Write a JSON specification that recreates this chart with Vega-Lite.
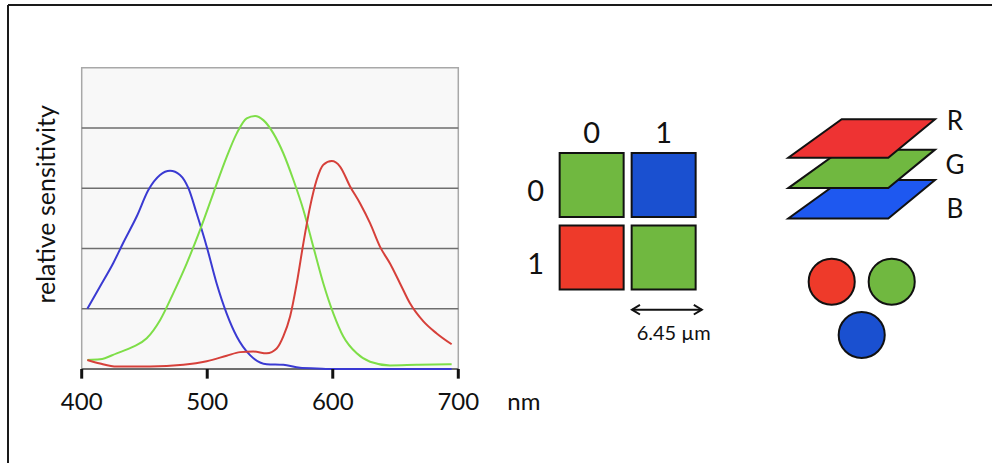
{
  "$schema": "https://vega.github.io/schema/vega-lite/v6.json",
  "width": 984,
  "height": 458,
  "autosize": {"type": "none"},
  "padding": {"left": 8, "top": 5, "right": 0, "bottom": 0},
  "background": "white",
  "config": {
    "view": {"stroke": null},
    "axis": {"disable": true},
    "legend": {"disable": true},
    "text": {"font": "Lato", "color": "#111111"}
  },
  "datasets": {
    "curves": [
      {"channel": "B", "wavelength": 404.5, "value": 1.0},
      {"channel": "B", "wavelength": 414.6, "value": 1.37},
      {"channel": "B", "wavelength": 425.2, "value": 1.76},
      {"channel": "B", "wavelength": 433.2, "value": 2.1},
      {"channel": "B", "wavelength": 443.8, "value": 2.53},
      {"channel": "B", "wavelength": 453.1, "value": 2.97},
      {"channel": "B", "wavelength": 462.4, "value": 3.22},
      {"channel": "B", "wavelength": 470.4, "value": 3.29},
      {"channel": "B", "wavelength": 478.3, "value": 3.22},
      {"channel": "B", "wavelength": 485.0, "value": 3.0},
      {"channel": "B", "wavelength": 491.6, "value": 2.58},
      {"channel": "B", "wavelength": 499.6, "value": 2.03},
      {"channel": "B", "wavelength": 507.5, "value": 1.42},
      {"channel": "B", "wavelength": 515.5, "value": 0.92},
      {"channel": "B", "wavelength": 523.5, "value": 0.54},
      {"channel": "B", "wavelength": 534.1, "value": 0.23},
      {"channel": "B", "wavelength": 547.4, "value": 0.08},
      {"channel": "B", "wavelength": 560.6, "value": 0.07},
      {"channel": "B", "wavelength": 573.9, "value": 0.02},
      {"channel": "B", "wavelength": 587.2, "value": 0.01},
      {"channel": "B", "wavelength": 600.5, "value": 0.0},
      {"channel": "B", "wavelength": 694.7, "value": 0.0},
      {"channel": "G", "wavelength": 404.5, "value": 0.15},
      {"channel": "G", "wavelength": 414.6, "value": 0.16},
      {"channel": "G", "wavelength": 427.9, "value": 0.26},
      {"channel": "G", "wavelength": 441.2, "value": 0.37},
      {"channel": "G", "wavelength": 451.8, "value": 0.51},
      {"channel": "G", "wavelength": 462.4, "value": 0.81},
      {"channel": "G", "wavelength": 473.0, "value": 1.26},
      {"channel": "G", "wavelength": 483.6, "value": 1.75},
      {"channel": "G", "wavelength": 494.3, "value": 2.31},
      {"channel": "G", "wavelength": 504.9, "value": 2.92},
      {"channel": "G", "wavelength": 515.5, "value": 3.52},
      {"channel": "G", "wavelength": 523.5, "value": 3.91},
      {"channel": "G", "wavelength": 531.4, "value": 4.16},
      {"channel": "G", "wavelength": 538.1, "value": 4.2},
      {"channel": "G", "wavelength": 544.7, "value": 4.13},
      {"channel": "G", "wavelength": 552.7, "value": 3.91},
      {"channel": "G", "wavelength": 560.6, "value": 3.58},
      {"channel": "G", "wavelength": 568.6, "value": 3.14},
      {"channel": "G", "wavelength": 576.6, "value": 2.64},
      {"channel": "G", "wavelength": 584.5, "value": 2.03},
      {"channel": "G", "wavelength": 592.5, "value": 1.42},
      {"channel": "G", "wavelength": 600.5, "value": 0.92},
      {"channel": "G", "wavelength": 608.4, "value": 0.54},
      {"channel": "G", "wavelength": 619.1, "value": 0.26},
      {"channel": "G", "wavelength": 629.7, "value": 0.12},
      {"channel": "G", "wavelength": 645.6, "value": 0.06},
      {"channel": "G", "wavelength": 666.9, "value": 0.07},
      {"channel": "G", "wavelength": 694.7, "value": 0.08},
      {"channel": "R", "wavelength": 404.5, "value": 0.15},
      {"channel": "R", "wavelength": 414.6, "value": 0.09},
      {"channel": "R", "wavelength": 427.9, "value": 0.04},
      {"channel": "R", "wavelength": 454.4, "value": 0.04},
      {"channel": "R", "wavelength": 481.0, "value": 0.07},
      {"channel": "R", "wavelength": 499.6, "value": 0.13},
      {"channel": "R", "wavelength": 515.5, "value": 0.22},
      {"channel": "R", "wavelength": 526.1, "value": 0.28},
      {"channel": "R", "wavelength": 536.7, "value": 0.29},
      {"channel": "R", "wavelength": 547.4, "value": 0.26},
      {"channel": "R", "wavelength": 555.3, "value": 0.34},
      {"channel": "R", "wavelength": 560.6, "value": 0.54},
      {"channel": "R", "wavelength": 566.0, "value": 0.87},
      {"channel": "R", "wavelength": 571.3, "value": 1.42},
      {"channel": "R", "wavelength": 576.6, "value": 2.09},
      {"channel": "R", "wavelength": 581.9, "value": 2.69},
      {"channel": "R", "wavelength": 587.2, "value": 3.14},
      {"channel": "R", "wavelength": 592.5, "value": 3.39},
      {"channel": "R", "wavelength": 599.2, "value": 3.45},
      {"channel": "R", "wavelength": 605.8, "value": 3.36},
      {"channel": "R", "wavelength": 613.8, "value": 3.03},
      {"channel": "R", "wavelength": 621.7, "value": 2.75},
      {"channel": "R", "wavelength": 629.7, "value": 2.42},
      {"channel": "R", "wavelength": 637.6, "value": 2.03},
      {"channel": "R", "wavelength": 645.6, "value": 1.75},
      {"channel": "R", "wavelength": 653.6, "value": 1.42},
      {"channel": "R", "wavelength": 661.5, "value": 1.09},
      {"channel": "R", "wavelength": 672.2, "value": 0.79},
      {"channel": "R", "wavelength": 682.8, "value": 0.59},
      {"channel": "R", "wavelength": 694.7, "value": 0.41}
    ],
    "wavelengthTicks": [{"nm": 400}, {"nm": 500}, {"nm": 600}, {"nm": 700}],
    "gridLevels": [{"v": 1}, {"v": 2}, {"v": 3}, {"v": 4}],
    "bayer": [
      {"row": 0, "col": 0, "filter": "G"},
      {"row": 0, "col": 1, "filter": "B"},
      {"row": 1, "col": 0, "filter": "R"},
      {"row": 1, "col": 1, "filter": "G"}
    ],
    "indices": [{"i": 0, "label": "0"}, {"i": 1, "label": "1"}],
    "channels": [
      {"channel": "B", "level": 0},
      {"channel": "G", "level": 1},
      {"channel": "R", "level": 2}
    ],
    "pixels": [
      {"channel": "R", "col": -1, "tier": 0},
      {"channel": "G", "col": 1, "tier": 0},
      {"channel": "B", "col": 0, "tier": 1}
    ],
    "single": [{}]
  },
  "resolve": {"scale": {"x": "independent", "y": "independent", "color": "independent"}},
  "layer": [
    {
      "layer": [
        {
          "data": {"name": "single"},
          "mark": {"type": "rect", "fill": "#f8f8f8", "stroke": "#a8a8a8", "strokeWidth": 1.5},
          "encoding": {
            "x": {"datum": 400, "type": "quantitative", "scale": {"domain": [341.29, 1125.15], "nice": false, "zero": false}},
            "x2": {"datum": 700},
            "y": {"datum": 0, "type": "quantitative", "scale": {"domain": [-1.5599, 6.0405], "nice": false, "zero": false}},
            "y2": {"datum": 5}
          }
        },
        {
          "data": {"name": "gridLevels"},
          "mark": {"type": "rule", "stroke": "#6e6e6e", "strokeWidth": 1.5},
          "encoding": {
            "x": {"datum": 400, "type": "quantitative", "scale": {"domain": [341.29, 1125.15], "nice": false, "zero": false}},
            "x2": {"datum": 700},
            "y": {"field": "v", "type": "quantitative", "scale": {"domain": [-1.5599, 6.0405], "nice": false, "zero": false}}
          }
        },
        {
          "data": {"name": "single"},
          "mark": {"type": "rule", "stroke": "#555555", "strokeWidth": 1.5},
          "encoding": {
            "x": {"datum": 400, "type": "quantitative", "scale": {"domain": [341.29, 1125.15], "nice": false, "zero": false}},
            "x2": {"datum": 700},
            "y": {"datum": 0, "type": "quantitative", "scale": {"domain": [-1.5599, 6.0405], "nice": false, "zero": false}}
          }
        },
        {
          "data": {"name": "curves"},
          "mark": {"type": "line", "strokeWidth": 2, "interpolate": "monotone"},
          "encoding": {
            "x": {"field": "wavelength", "type": "quantitative", "scale": {"domain": [341.29, 1125.15], "nice": false, "zero": false}},
            "y": {"field": "value", "type": "quantitative", "scale": {"domain": [-1.5599, 6.0405], "nice": false, "zero": false}},
            "color": {"field": "channel", "type": "nominal", "scale": {"domain": ["G", "B", "R"], "range": ["#7ede48", "#3a3ad2", "#d6403a"]}}
          }
        },
        {
          "data": {"name": "wavelengthTicks"},
          "mark": {"type": "rule", "stroke": "#111111", "strokeWidth": 3},
          "encoding": {
            "x": {"field": "nm", "type": "quantitative", "scale": {"domain": [341.29, 1125.15], "nice": false, "zero": false}},
            "y": {"datum": 0, "type": "quantitative", "scale": {"domain": [-1.5599, 6.0405], "nice": false, "zero": false}},
            "y2": {"datum": -0.16}
          }
        },
        {
          "data": {"name": "wavelengthTicks"},
          "mark": {"type": "text", "fontSize": 24, "baseline": "alphabetic", "align": "center", "dy": 41},
          "encoding": {
            "x": {"field": "nm", "type": "quantitative", "scale": {"domain": [341.29, 1125.15], "nice": false, "zero": false}},
            "y": {"datum": 0, "type": "quantitative", "scale": {"domain": [-1.5599, 6.0405], "nice": false, "zero": false}},
            "text": {"field": "nm", "type": "quantitative"}
          }
        },
        {
          "data": {"name": "single"},
          "mark": {"type": "text", "fontSize": 24, "baseline": "alphabetic", "align": "left", "dx": 49, "dy": 41},
          "encoding": {
            "x": {"datum": 700, "type": "quantitative", "scale": {"domain": [341.29, 1125.15], "nice": false, "zero": false}},
            "y": {"datum": 0, "type": "quantitative", "scale": {"domain": [-1.5599, 6.0405], "nice": false, "zero": false}},
            "text": {"value": "nm"}
          }
        },
        {
          "data": {"name": "single"},
          "mark": {"type": "text", "fontSize": 25, "angle": 270, "baseline": "bottom", "align": "center", "dx": 14, "dy": -22},
          "encoding": {
            "x": {"datum": 400, "type": "quantitative", "scale": {"domain": [341.29, 1125.15], "nice": false, "zero": false}},
            "y": {"datum": 2.5, "type": "quantitative", "scale": {"domain": [-1.5599, 6.0405], "nice": false, "zero": false}},
            "text": {"value": "relative sensitivity"}
          }
        }
      ]
    },
    {
      "layer": [
        {
          "data": {"name": "bayer"},
          "mark": {"type": "point", "shape": "square", "size": 4096, "filled": true, "opacity": 1, "stroke": "#111111", "strokeWidth": 2},
          "encoding": {
            "x": {"field": "col", "type": "quantitative", "scale": {"domain": [-8.1063, 5.5604], "nice": false, "zero": false}},
            "y": {"field": "row", "type": "quantitative", "scale": {"domain": [-2.4828, 3.8345], "nice": false, "zero": false, "reverse": true}},
            "color": {"field": "filter", "type": "nominal", "scale": {"domain": ["R", "G", "B"], "range": ["#ee3a2a", "#70b840", "#1a50d0"]}}
          }
        },
        {
          "data": {"name": "indices"},
          "mark": {"type": "text", "fontSize": 29, "baseline": "alphabetic", "align": "center", "dy": -6},
          "encoding": {
            "x": {"field": "i", "type": "quantitative", "scale": {"domain": [-8.1063, 5.5604], "nice": false, "zero": false}},
            "y": {"datum": -0.5, "type": "quantitative", "scale": {"domain": [-2.4828, 3.8345], "nice": false, "zero": false, "reverse": true}},
            "text": {"field": "label", "type": "nominal"}
          }
        },
        {
          "data": {"name": "indices"},
          "mark": {"type": "text", "fontSize": 29, "baseline": "alphabetic", "align": "center", "dx": -20, "dy": 16},
          "encoding": {
            "x": {"datum": -0.5, "type": "quantitative", "scale": {"domain": [-8.1063, 5.5604], "nice": false, "zero": false}},
            "y": {"field": "i", "type": "quantitative", "scale": {"domain": [-2.4828, 3.8345], "nice": false, "zero": false, "reverse": true}},
            "text": {"field": "label", "type": "nominal"}
          }
        },
        {
          "data": {"name": "single"},
          "mark": {"type": "rule", "stroke": "#111111", "strokeWidth": 2},
          "encoding": {
            "x": {"datum": 0.56, "type": "quantitative", "scale": {"domain": [-8.1063, 5.5604], "nice": false, "zero": false}},
            "x2": {"datum": 1.53},
            "y": {"datum": 1.72, "type": "quantitative", "scale": {"domain": [-2.4828, 3.8345], "nice": false, "zero": false, "reverse": true}}
          }
        },
        {
          "data": {"name": "single"},
          "mark": {"type": "point", "shape": "M 1 -0.6 L 0 0 L 1 0.6", "size": 256, "filled": false, "opacity": 1, "stroke": "#111111", "strokeWidth": 2},
          "encoding": {
            "x": {"datum": 0.56, "type": "quantitative", "scale": {"domain": [-8.1063, 5.5604], "nice": false, "zero": false}},
            "y": {"datum": 1.72, "type": "quantitative", "scale": {"domain": [-2.4828, 3.8345], "nice": false, "zero": false, "reverse": true}}
          }
        },
        {
          "data": {"name": "single"},
          "mark": {"type": "point", "shape": "M -1 -0.6 L 0 0 L -1 0.6", "size": 256, "filled": false, "opacity": 1, "stroke": "#111111", "strokeWidth": 2},
          "encoding": {
            "x": {"datum": 1.53, "type": "quantitative", "scale": {"domain": [-8.1063, 5.5604], "nice": false, "zero": false}},
            "y": {"datum": 1.72, "type": "quantitative", "scale": {"domain": [-2.4828, 3.8345], "nice": false, "zero": false, "reverse": true}}
          }
        },
        {
          "data": {"name": "single"},
          "mark": {"type": "text", "fontSize": 20, "baseline": "alphabetic", "align": "center", "dy": 30},
          "encoding": {
            "x": {"datum": 1.14, "type": "quantitative", "scale": {"domain": [-8.1063, 5.5604], "nice": false, "zero": false}},
            "y": {"datum": 1.72, "type": "quantitative", "scale": {"domain": [-2.4828, 3.8345], "nice": false, "zero": false, "reverse": true}},
            "text": {"value": "6.45 µm"}
          }
        }
      ]
    },
    {
      "data": {"name": "channels"},
      "mark": {"type": "point", "shape": "M -0.272 -0.262 L 1 -0.262 L 0.363 0.262 L -1 0.262 Z", "size": 21521, "filled": true, "opacity": 1, "stroke": "#111111", "strokeWidth": 2},
      "encoding": {
        "x": {"datum": 0, "type": "quantitative", "scale": {"domain": [-28.127, 4.295], "nice": false, "zero": false}},
        "y": {"field": "level", "type": "quantitative", "scale": {"domain": [-8.692, 6.399], "nice": false, "zero": false}},
        "color": {"field": "channel", "type": "nominal", "scale": {"domain": ["R", "G", "B"], "range": ["#ee3333", "#70b840", "#1e58f0"]}},
        "order": {"field": "level", "type": "quantitative"}
      }
    },
    {
      "data": {"name": "channels"},
      "mark": {"type": "text", "fontSize": 26, "baseline": "alphabetic", "align": "center"},
      "encoding": {
        "x": {"datum": 3.076, "type": "quantitative", "scale": {"domain": [-28.127, 4.295], "nice": false, "zero": false}},
        "y": {"field": "level", "type": "quantitative", "scale": {"domain": [-5.5425, 4.8312], "nice": false, "zero": false}},
        "text": {"field": "channel", "type": "nominal"}
      }
    },
    {
      "data": {"name": "pixels"},
      "mark": {"type": "point", "shape": "circle", "size": 2124, "filled": true, "opacity": 1, "stroke": "#111111", "strokeWidth": 2},
      "encoding": {
        "x": {"field": "col", "type": "quantitative", "scale": {"domain": [-28.457, 4.343], "nice": false, "zero": false}},
        "y": {"field": "tier", "type": "quantitative", "scale": {"domain": [-5.1914, 3.4015], "nice": false, "zero": false, "reverse": true}},
        "color": {"field": "channel", "type": "nominal", "scale": {"domain": ["R", "G", "B"], "range": ["#ee3a2a", "#70b840", "#1a50d0"]}}
      }
    },
    {
      "layer": [
        {
          "data": {"name": "single"},
          "mark": {"type": "rule", "stroke": "#1a1a1a", "strokeWidth": 2},
          "encoding": {
            "x": {"datum": 0, "type": "quantitative", "scale": {"domain": [0, 1], "nice": false, "zero": false}},
            "y": {"datum": 0, "type": "quantitative", "scale": {"domain": [0, 1], "nice": false, "zero": false}},
            "y2": {"datum": 1}
          }
        },
        {
          "data": {"name": "single"},
          "mark": {"type": "rule", "stroke": "#1a1a1a", "strokeWidth": 2},
          "encoding": {
            "x": {"datum": 0, "type": "quantitative", "scale": {"domain": [0, 1], "nice": false, "zero": false}},
            "x2": {"datum": 1},
            "y": {"datum": 1, "type": "quantitative", "scale": {"domain": [0, 1], "nice": false, "zero": false}}
          }
        }
      ]
    }
  ]
}
